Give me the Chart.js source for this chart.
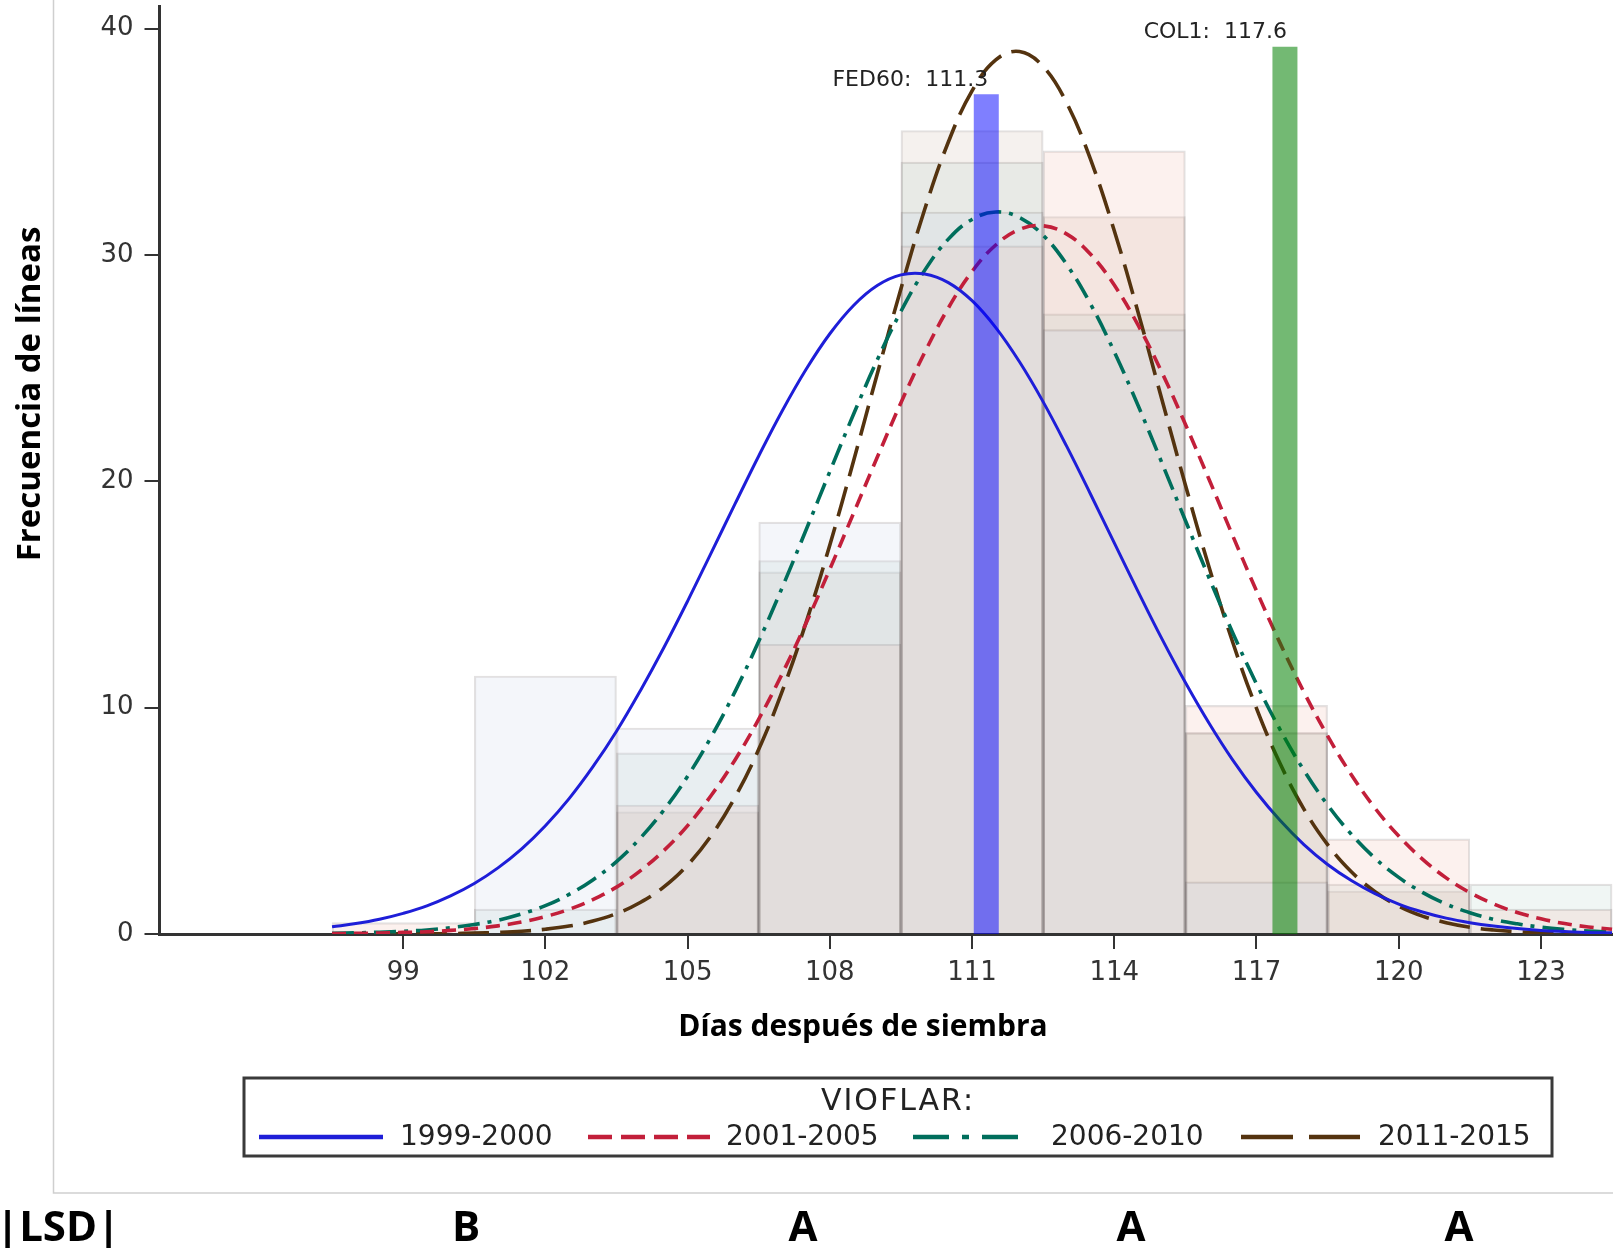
<!DOCTYPE html>
<html>
<head>
<meta charset="utf-8">
<script src="https://cdn.jsdelivr.net/npm/chart.js@4.4.1/dist/chart.umd.min.js"></script>
<style>
  body { margin: 0; background: #fff; }
  canvas { display: block; }
</style>
</head>
<body>
<canvas id="myChart" width="1613" height="1248"></canvas>
<script>
// clases del histograma (centro de cada barra, ancho 3 dias)
const binCenters = [99, 102, 105, 108, 111, 114, 117, 120, 123];
const hist1999 = [0, 11.4, 9.1, 18.2, 31.9, 26.7, 2.3, 0, 0];
const hist2001 = [0.5, 0, 5.7, 12.8, 30.4, 34.6, 10.1, 4.2, 1.1];
const hist2006 = [0, 1.1, 8.0, 16.5, 34.1, 27.4, 8.9, 2.2, 2.2];
const hist2011 = [0, 0, 5.4, 16.0, 35.5, 31.7, 8.9, 1.9, 0];

// curvas normales (cada medio dia)
const curveX = [97.5, 98, 98.5, 99, 99.5, 100, 100.5, 101, 101.5, 102,
                102.5, 103, 103.5, 104, 104.5, 105, 105.5, 106, 106.5, 107,
                107.5, 108, 108.5, 109, 109.5, 110, 110.5, 111, 111.5, 112,
                112.5, 113, 113.5, 114, 114.5, 115, 115.5, 116, 116.5, 117,
                117.5, 118, 118.5, 119, 119.5, 120, 120.5, 121, 121.5, 122,
                122.5, 123, 123.5, 124, 124.5];
const curve1999 = [0.32, 0.46, 0.65, 0.91, 1.24, 1.68, 2.23, 2.92, 3.76, 4.78,
                   5.98, 7.38, 8.96, 10.74, 12.66, 14.71, 16.85, 19.00, 21.12, 23.13,
                   24.95, 26.52, 27.77, 28.65, 29.12, 29.16, 28.78, 27.98, 26.79, 25.28,
                   23.51, 21.53, 19.43, 17.28, 15.14, 13.06, 11.11, 9.31, 7.68, 6.25,
                   5.01, 3.95, 3.07, 2.36, 1.78, 1.32, 0.97, 0.70, 0.50, 0.35,
                   0.24, 0.16, 0.11, 0.07, 0.05];
const curve2001 = [0.02, 0.03, 0.04, 0.07, 0.10, 0.16, 0.24, 0.36, 0.53, 0.77,
                   1.09, 1.52, 2.07, 2.79, 3.69, 4.79, 6.13, 7.69, 9.49, 11.52,
                   13.74, 16.12, 18.59, 21.06, 23.47, 25.69, 27.66, 29.27, 30.44, 31.13,
                   31.29, 30.92, 30.03, 28.67, 26.91, 24.83, 22.52, 20.08, 17.59, 15.16,
                   12.84, 10.69, 8.75, 7.04, 5.56, 4.33, 3.31, 2.48, 1.83, 1.33,
                   0.95, 0.67, 0.46, 0.31, 0.21];
const curve2006 = [0.03, 0.05, 0.08, 0.12, 0.18, 0.28, 0.42, 0.61, 0.89, 1.25,
                   1.75, 2.39, 3.20, 4.23, 5.48, 6.97, 8.72, 10.71, 12.93, 15.33,
                   17.86, 20.43, 22.96, 25.36, 27.51, 29.32, 30.70, 31.57, 31.90, 31.66,
                   30.87, 29.57, 27.83, 25.72, 23.36, 20.84, 18.27, 15.73, 13.30, 11.05,
                   9.02, 7.23, 5.70, 4.41, 3.35, 2.50, 1.84, 1.32, 0.94, 0.65,
                   0.45, 0.30, 0.20, 0.13, 0.08];
const curve2011 = [0.00, 0.00, 0.00, 0.01, 0.01, 0.02, 0.04, 0.07, 0.12, 0.21,
                   0.35, 0.57, 0.90, 1.39, 2.08, 3.05, 4.35, 6.04, 8.16, 10.75,
                   13.77, 17.19, 20.90, 24.74, 28.51, 32.01, 34.99, 37.25, 38.62, 38.99,
                   38.33, 36.70, 34.22, 31.07, 27.48, 23.65, 19.84, 16.20, 12.88, 9.97,
                   7.52, 5.52, 3.95, 2.75, 1.87, 1.23, 0.79, 0.50, 0.30, 0.18,
                   0.10, 0.06, 0.03, 0.02, 0.01];

// testigos
const markerNames = ['FED60', 'COL1'];
const markerDays = [111.3, 117.6];
const markerHeights = [37.1, 39.2];

const seriesNames = ['1999-2000', '2001-2005', '2006-2010', '2011-2015'];
const xTicks = [99, 102, 105, 108, 111, 114, 117, 120, 123];
const yTicks = [0, 10, 20, 30, 40];
const groupLetters = ['B', 'A', 'A', 'A'];

const lineColors = ['#1e1ed8', '#c21f3a', '#006e5c', '#54330f'];
const lineDashes = [[], [14, 8], [22, 8, 4, 8], [31, 11]];
const histColors = ['rgba(200,212,232,0.2)', 'rgba(238,185,172,0.2)', 'rgba(178,208,202,0.2)', 'rgba(205,185,170,0.2)'];
const markerColors = ['rgba(0,0,255,0.5)', 'rgba(0,128,0,0.55)'];

let toXY = (xs, ys) => xs.map((x, i) => ({x: x, y: ys[i]}));

const hists = [hist1999, hist2001, hist2006, hist2011];
const curves = [curve1999, curve2001, curve2006, curve2011];

let datasets = [];
hists.forEach((h, i) => {
    datasets.push({
        type: 'bar',
        label: 'hist ' + seriesNames[i],
        data: toXY(binCenters, h),
        backgroundColor: histColors[i],
        borderColor: 'rgba(60,40,40,0.14)',
        borderWidth: 1.5,
        borderSkipped: 'start',
        grouped: false,
        barPercentage: 1,
        categoryPercentage: 1,
        order: 3
    });
});
curves.forEach((c, i) => {
    datasets.push({
        type: 'line',
        label: seriesNames[i],
        data: toXY(curveX, c),
        borderColor: lineColors[i],
        borderDash: lineDashes[i],
        borderWidth: i == 0 ? 3 : 3.6,
        pointRadius: 0,
        tension: 0.4,
        fill: false,
        order: 2
    });
});
markerDays.forEach((d, i) => {
    datasets.push({
        type: 'line',
        label: markerNames[i],
        data: [{x: d, y: 0}, {x: d, y: markerHeights[i]}],
        borderColor: markerColors[i],
        borderWidth: 25,
        borderCapStyle: 'butt',
        pointRadius: 0,
        fill: false,
        order: 1
    });
});

const extras = {
    id: 'extras',
    beforeDraw(chart) {
        const ctx = chart.ctx;
        ctx.save();
        ctx.fillStyle = '#fff';
        ctx.fillRect(0, 0, chart.width, chart.height);
        ctx.restore();
    },
    afterDraw(chart) {
        const ctx = chart.ctx;
        const xs = chart.scales.x, ys = chart.scales.y;
        ctx.save();

        // marco gris
        ctx.strokeStyle = '#cfcfcf';
        ctx.lineWidth = 1.5;
        ctx.beginPath();
        ctx.moveTo(53.5, 0);
        ctx.lineTo(53.5, 1193);
        ctx.lineTo(1613, 1193);
        ctx.stroke();

        // etiquetas de testigos
        ctx.fillStyle = '#222';
        ctx.font = '22px "DejaVu Sans"';
        ctx.textAlign = 'right';
        ctx.textBaseline = 'middle';
        markerDays.forEach((d, i) => {
            ctx.fillText(markerNames[i] + ':  ' + d.toFixed(1), xs.getPixelForValue(d) + 2, ys.getPixelForValue(markerHeights[i]) - 14);
        });

        // titulos de ejes
        ctx.fillStyle = '#000';
        ctx.font = 'bold 30px "Open Sans"';
        ctx.textAlign = 'center';
        ctx.fillText('Días después de siembra', 863, 1027);
        ctx.save();
        ctx.translate(31, 394);
        ctx.rotate(-Math.PI / 2);
        ctx.font = 'bold 33px "Open Sans"';
        ctx.fillText('Frecuencia de líneas', 0, 0);
        ctx.restore();

        // leyenda
        ctx.strokeStyle = '#3a3a3a';
        ctx.lineWidth = 3;
        ctx.strokeRect(244, 1078, 1308, 78);
        ctx.fillStyle = '#222';
        ctx.font = '30px "DejaVu Sans"';
        ctx.letterSpacing = '2px';
        ctx.fillText('VIOFLAR:', 898, 1102);
        ctx.letterSpacing = '0px';
        const sampleStart = [259, 588, 913, 1241];
        const sampleEnd = [383, 710, 1027, 1360];
        const textStart = [400, 726, 1051, 1378];
        const legendDash = [[], [24, 9], [36, 13, 7, 13], [52, 16]];
        ctx.font = '28px "DejaVu Sans"';
        ctx.textAlign = 'left';
        seriesNames.forEach((s, i) => {
            ctx.strokeStyle = lineColors[i];
            ctx.lineWidth = 4.5;
            ctx.setLineDash(legendDash[i]);
            ctx.beginPath();
            ctx.moveTo(sampleStart[i], 1137);
            ctx.lineTo(sampleEnd[i], 1137);
            ctx.stroke();
            ctx.setLineDash([]);
            ctx.fillText(s, textStart[i], 1138);
        });

        // letras LSD
        ctx.fillStyle = '#000';
        ctx.font = 'bold 42px "Open Sans"';
        ctx.textAlign = 'left';
        ctx.fillText('|LSD|', -4, 1229);
        ctx.textAlign = 'center';
        const letterX = [466, 803, 1131, 1459];
        groupLetters.forEach((l, i) => ctx.fillText(l, letterX[i], 1229));
        ctx.restore();
    }
};

var ctx = document.getElementById('myChart').getContext('2d');
var myChart = new Chart(ctx, {
    type: 'bar',
    data: { datasets: datasets },
    options: {
        responsive: false,
        devicePixelRatio: 1,
        animation: false,
        layout: { padding: { top: 6, right: 0, bottom: 0, left: 0 } },
        plugins: {
            legend: { display: false },
            tooltip: { enabled: false },
            title: { display: false }
        },
        scales: {
            x: {
                type: 'linear',
                min: 93.86,
                max: 124.52,
                offset: false,
                afterBuildTicks: (scale) => { scale.ticks = xTicks.map(v => ({value: v})); },
                afterFit: (scale) => { scale.height = 314; scale.paddingLeft = 0; scale.paddingRight = 0; },
                ticks: {
                    autoSkip: false,
                    maxRotation: 0,
                    padding: 9,
                    color: '#333',
                    font: { family: 'DejaVu Sans', size: 26 },
                    callback: (v) => v
                },
                grid: { display: true, offset: false, drawOnChartArea: false, drawTicks: true, tickLength: 15, color: '#333', lineWidth: 2 },
                border: { display: true, color: '#333', width: 3 }
            },
            y: {
                min: 0,
                max: 41,
                afterBuildTicks: (scale) => { scale.ticks = yTicks.map(v => ({value: v})); },
                afterFit: (scale) => { scale.width = 159.5; scale.paddingTop = 0; scale.paddingBottom = 0; },
                ticks: {
                    padding: 11,
                    color: '#333',
                    font: { family: 'DejaVu Sans', size: 26 }
                },
                grid: { display: true, drawOnChartArea: false, drawTicks: true, tickLength: 15, color: '#333', lineWidth: 2 },
                border: { display: true, color: '#333', width: 3 }
            }
        }
    },
    plugins: [extras]
});
</script>
</body>
</html>
